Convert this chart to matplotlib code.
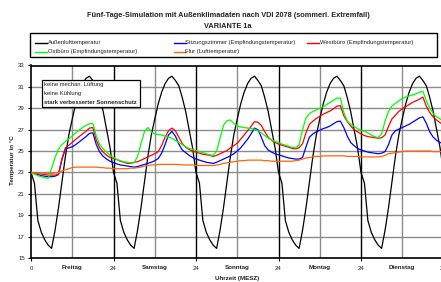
import matplotlib
matplotlib.use("Agg")
import matplotlib.pyplot as plt
from matplotlib.lines import Line2D
from matplotlib.patches import Rectangle

plt.rcParams['font.family'] = ['Liberation Sans', 'DejaVu Sans']

# ---------------- data (hourly values, hour 0 .. 120) ----------------
hours = list(range(121))

aussen = [
    23.0, 22.0, 18.5, 17.4, 16.7, 16.2, 15.9, 17.6, 19.7, 22.1, 24.5, 26.5, 28.0, 29.4, 30.5, 31.3, 31.8, 32.0, 31.6, 31.1, 30.0, 28.7, 27.0, 25.3,
    23.0, 22.0, 18.5, 17.4, 16.7, 16.2, 15.9, 17.6, 19.7, 22.1, 24.5, 26.5, 28.0, 29.4, 30.5, 31.3, 31.8, 32.0, 31.6, 31.1, 30.0, 28.7, 27.0, 25.3,
    23.0, 22.0, 18.5, 17.4, 16.7, 16.2, 15.9, 17.6, 19.7, 22.1, 24.5, 26.5, 28.0, 29.4, 30.5, 31.3, 31.8, 32.0, 31.6, 31.1, 30.0, 28.7, 27.0, 25.3,
    23.0, 22.0, 18.5, 17.4, 16.7, 16.2, 15.9, 17.6, 19.7, 22.1, 24.5, 26.5, 28.0, 29.4, 30.5, 31.3, 31.8, 32.0, 31.6, 31.1, 30.0, 28.7, 27.0, 25.3,
    23.0, 22.0, 18.5, 17.4, 16.7, 16.2, 15.9, 17.6, 19.7, 22.1, 24.5, 26.5, 28.0, 29.4, 30.5, 31.3, 31.8, 32.0, 31.6, 31.1, 30.0, 28.7, 27.0, 25.3,
    23.0,
]

sitzung = [
    23.0, 22.9, 22.8, 22.7, 22.65, 22.6, 22.6, 22.65, 22.8, 24.2, 25.2, 25.3, 25.4, 25.6, 25.85, 26.1, 26.35, 26.65, 26.7, 25.6, 24.9, 24.5, 24.25, 24.05,
    23.9, 23.8, 23.7, 23.65, 23.6, 23.55, 23.5, 23.55, 23.65, 23.75, 23.85, 23.95, 24.1, 24.3, 24.8, 25.6, 26.5, 26.85, 26.4, 25.65, 25.1, 24.85, 24.6, 24.4,
    24.25, 24.15, 24.05, 23.95, 23.9, 23.85, 23.95, 24.1, 24.25, 24.4, 24.55, 24.75, 25.0, 25.3, 25.7, 26.1, 26.6, 27.15, 27.0, 26.3, 25.5, 25.1, 24.9, 24.75,
    24.65, 24.55, 24.45, 24.35, 24.3, 24.25, 24.25, 24.4, 25.4, 26.3, 26.6, 26.8, 26.95, 27.1, 27.2, 27.35, 27.55, 27.75, 27.8, 27.2, 26.4, 25.8, 25.5, 25.25,
    25.1, 25.0, 24.9, 24.85, 24.8, 24.75, 24.8, 24.95, 25.6, 26.5, 26.9, 27.05, 27.2, 27.35, 27.5, 27.7, 27.9, 28.1, 28.2, 27.6, 26.8, 26.3, 26.0, 25.8,
    25.7,
]

westbuero = [
    23.0, 22.95, 22.9, 22.85, 22.8, 22.75, 22.75, 22.75, 22.85, 24.3, 25.3, 25.55, 25.8, 26.1, 26.35, 26.6, 26.85, 27.15, 27.2, 26.0, 25.3, 24.9, 24.6, 24.4,
    24.3, 24.2, 24.05, 23.95, 23.85, 23.85, 23.95, 24.0, 24.15, 24.3, 24.45, 24.6, 24.75, 24.95, 25.5, 26.3, 26.9, 27.15, 26.9, 26.3, 25.7, 25.35, 25.15, 25.0,
    24.9, 24.8, 24.7, 24.65, 24.6, 24.5, 24.6, 24.75, 24.9, 25.05, 25.3, 25.5, 25.75, 26.1, 26.5, 26.9, 27.3, 27.75, 27.7, 27.4, 26.8, 26.3, 26.0, 25.8,
    25.65, 25.55, 25.45, 25.35, 25.25, 25.2, 25.3, 25.7, 26.7, 27.5, 27.8, 28.05, 28.25, 28.45, 28.6, 28.75, 28.95, 29.2, 29.25, 28.3, 27.75, 27.35, 27.0, 26.8,
    26.6, 26.45, 26.35, 26.3, 26.25, 26.2, 26.25, 26.5, 27.3, 28.0, 28.35, 28.7, 28.95, 29.15, 29.35, 29.55, 29.7, 29.85, 30.05, 29.2, 28.6, 28.2, 27.9, 27.65,
    27.45,
]

ostbuero = [
    23.0, 22.85, 22.7, 22.6, 22.5, 22.45, 23.4, 24.4, 25.2, 25.6, 25.9, 26.15, 26.4, 26.7, 26.95, 27.2, 27.4, 27.55, 27.6, 26.4, 25.6, 25.2, 24.9, 24.6,
    24.4, 24.2, 24.1, 24.0, 23.95, 23.9, 23.9, 24.5, 25.7, 26.8, 27.2, 26.8, 26.6, 26.55, 26.5, 26.4, 26.3, 26.2, 26.0, 25.8, 25.6, 25.4, 25.25, 25.15,
    25.05, 24.95, 24.85, 24.75, 24.65, 24.6, 25.0, 26.2, 27.4, 27.85, 27.9, 27.6, 27.35, 27.25, 27.2, 27.15, 27.1, 27.05, 26.9, 26.7, 26.45, 26.2, 26.05, 25.9,
    25.8, 25.65, 25.55, 25.45, 25.35, 25.3, 25.6, 27.0, 28.1, 28.5, 28.7, 28.85, 29.0, 29.15, 29.35, 29.55, 29.75, 29.95, 29.95, 28.6, 27.8, 27.5, 27.3, 27.1,
    26.95, 26.85, 26.7, 26.5, 26.35, 26.25, 26.6, 27.8, 28.7, 29.2, 29.45, 29.7, 29.9, 30.05, 30.15, 30.25, 30.35, 30.5, 30.6, 29.7, 29.0, 28.5, 28.2, 28.0,
    27.8,
]

flur = [
    23.0, 22.95, 22.95, 22.9, 22.9, 22.9, 22.9, 22.95, 23.0, 23.15, 23.25, 23.35, 23.45, 23.5, 23.5, 23.5, 23.5, 23.5, 23.5, 23.5, 23.45, 23.45, 23.4, 23.4,
    23.35, 23.35, 23.35, 23.35, 23.35, 23.4, 23.4, 23.45, 23.5, 23.6, 23.65, 23.7, 23.7, 23.75, 23.75, 23.75, 23.75, 23.75, 23.75, 23.75, 23.7, 23.7, 23.7, 23.7,
    23.65, 23.65, 23.65, 23.65, 23.65, 23.65, 23.7, 23.75, 23.85, 23.9, 23.95, 24.0, 24.05, 24.1, 24.1, 24.15, 24.15, 24.15, 24.15, 24.15, 24.1, 24.1, 24.05, 24.05,
    24.05, 24.05, 24.05, 24.05, 24.05, 24.1, 24.15, 24.25, 24.35, 24.4, 24.45, 24.5, 24.5, 24.55, 24.55, 24.55, 24.55, 24.55, 24.55, 24.55, 24.5, 24.5, 24.5, 24.5,
    24.45, 24.45, 24.45, 24.45, 24.45, 24.45, 24.5, 24.6, 24.75, 24.8, 24.85, 24.9, 24.95, 25.0, 25.0, 25.0, 25.0, 25.0, 25.0, 25.0, 25.0, 24.95, 24.95, 24.95,
    24.95,
]

series_labels = [
    "Außenlufttemperatur",
    "Sitzungszimmer (Empfindungstemperatur)",
    "Westbüro (Empfindungstemperatur)",
    "Ostbüro (Empfindungstemperatur)",
    "Flur (Lufttemperatur)",
]
series_colors = ["#000000", "#0000FF", "#FF0000", "#00FF00", "#FF6600"]

x_tick_pos = [0, 24, 48, 72, 96, 120]
x_tick_labels = ["0", "24", "24", "24", "24", "24"]
day_pos = [12, 36, 60, 84, 108]
day_names = ["Freitag", "Samstag", "Sonntag", "Montag", "Dienstag"]
y_ticks = [15, 17, 19, 21, 23, 25, 27, 29, 31, 33]

# ---------------- figure ----------------
W, H = 441, 282
fig = plt.figure(figsize=(W / 100, H / 100), dpi=100)
fig.patch.set_facecolor("white")

def fx(px):
    return px / W

def fy(py):
    return 1 - py / H

ax_l, ax_r, ax_t, ax_b = 31, 443.5, 65.5, 258
ax = fig.add_axes([fx(ax_l), fy(ax_b), fx(ax_r - ax_l), (ax_b - ax_t) / H])
ax.set_xlim(0, 120)
ax.set_ylim(15, 33)

# grid
for y in y_ticks:
    ax.axhline(y, color="#8c8c8c", lw=1.0, zorder=1)
for d in day_pos:
    ax.axvline(d, color="#8c8c8c", lw=1.0, zorder=1)
for m in x_tick_pos[1:-1]:
    ax.axvline(m, color="black", lw=1.0, zorder=1)

data_series = [aussen, sitzung, westbuero, ostbuero, flur]
for vals, col in zip(data_series, series_colors):
    ax.plot(hours, vals, color=col, lw=0.9, zorder=3)

for s in ax.spines.values():
    s.set_linewidth(1.2)
    s.set_color("black")

ax.set_yticks(y_ticks)
ax.set_yticklabels([str(v) for v in y_ticks], fontsize=4.3, color="#222222")
ax.set_xticks(x_tick_pos)
ax.set_xticklabels(x_tick_labels, fontsize=4.3, color="#222222")
ax.tick_params(axis="both", length=2, width=0.8, pad=2.5)
ax.tick_params(axis="x", pad=4)

for d, name in zip(day_pos, day_names):
    ax.text(d, -0.035, name, transform=ax.get_xaxis_transform(), ha="center", va="top",
            fontsize=4.5, fontweight="bold", color="#222222")

fig.text(fx(13), fy(160), "Temperatur in °C", rotation=90, ha="center", va="center",
         fontsize=4.5, fontweight="bold", color="#222222")
fig.text(fx(237), fy(278.5), "Uhrzeit (MESZ)", ha="center", va="center",
         fontsize=4.5, fontweight="bold", color="#222222")

# title
fig.text(fx(228), fy(15.5), "Fünf-Tage-Simulation mit Außenklimadaten nach VDI 2078 (sommerl. Extremfall)",
         ha="center", va="center", fontsize=5.3, fontweight="bold", color="#222222")
fig.text(fx(228), fy(26.5), "VARIANTE 1a", ha="center", va="center",
         fontsize=5.3, fontweight="bold", color="#222222")

# legend (manual layout)
fig.add_artist(Rectangle((fx(29.5), fy(57)), fx(437 - 29.5), (57 - 33.5) / H,
                         transform=fig.transFigure, fill=False, edgecolor="black", lw=1.0))
leg_pos = [(35, 47.5, 42.7), (174.3, 185, 42.7), (307.3, 320.5, 42.7),
           (35, 47.5, 51.7), (174.3, 185, 51.7)]
for (x0, tx, yy), lab, col in zip(leg_pos, series_labels, series_colors):
    fig.add_artist(Line2D([fx(x0), fx(x0 + 11.5)], [fy(yy), fy(yy)], transform=fig.transFigure,
                          color=col, lw=1.0))
    fig.text(fx(tx), fy(yy), lab, ha="left", va="center", fontsize=4.2, color="#222222")

# annotation box
bx0, bx1, by0, by1 = 42.3, 140, 80, 107.3
fig.add_artist(Rectangle((fx(bx0), fy(by1)), fx(bx1 - bx0), (by1 - by0) / H,
                         transform=fig.transFigure, facecolor="white", edgecolor="black",
                         lw=0.9, zorder=5))
fig.text(fx(44), fy(85), "keine mechan. Lüftung", ha="left", va="center", fontsize=4.2,
         color="#222222", zorder=6)
fig.text(fx(44), fy(94), "keine Kühlung", ha="left", va="center", fontsize=4.2,
         color="#222222", zorder=6)
fig.text(fx(44), fy(102.7), "stark verbesserter Sonnenschutz", ha="left", va="center",
         fontsize=4.2, fontweight="bold", color="#222222", zorder=6)

fig.savefig("out.png", dpi=100, facecolor="white")
